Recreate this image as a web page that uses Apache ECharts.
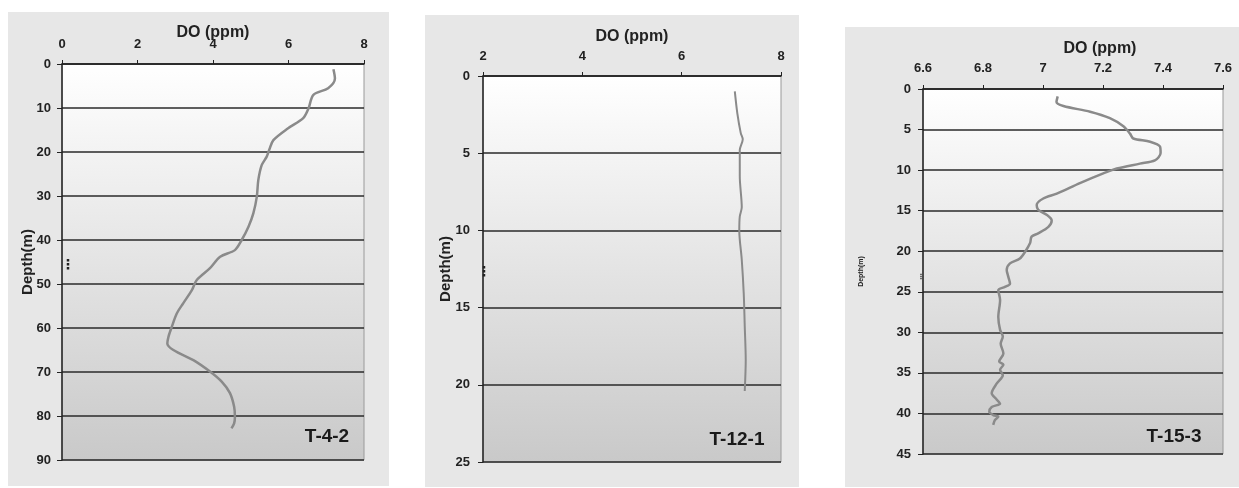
<!DOCTYPE html>
<html><head><meta charset="utf-8">
<script src="https://cdn.jsdelivr.net/npm/echarts@6/dist/echarts.min.js"></script>
<style>html,body{margin:0;padding:0;background:#fff}#c{width:1239px;height:488px}</style>
</head><body><div id="c"></div>
<script>
// Panel T-4-2
const t42Depth = [1.2,3.3,5.5,7.0,10.1,12.3,14.6,17.3,19.5,21.1,23,26.4,30.2,33.9,37,40,42.3,43.8,46.4,49.1,51.4,54.4,56.7,59.7,62,63.5,65,67.3,69.9,72.2,74.8,77.9,80.2,81.7,82.8];
const t42DO    = [7.19,7.23,7.05,6.66,6.53,6.39,5.99,5.60,5.49,5.42,5.29,5.20,5.16,5.07,4.94,4.76,4.58,4.19,3.92,3.57,3.44,3.21,3.04,2.91,2.82,2.79,2.95,3.48,3.92,4.23,4.45,4.56,4.58,4.56,4.49];
// Panel T-12-1
const t121Depth = [1.0,2.4,3.7,4.1,4.8,6.5,8.5,9.1,10.0,11.9,14.1,16.2,18.4,20.4];
const t121DO    = [7.07,7.12,7.19,7.23,7.17,7.17,7.21,7.17,7.16,7.21,7.25,7.27,7.29,7.27];
// Panel T-15-3
const t153Depth = [0.9,1.6,2.1,2.8,3.6,4.6,5.5,6.1,6.5,7.1,7.9,8.8,9.2,9.8,10.4,11.6,12.9,13.5,14.3,14.9,15.5,16.2,17.0,17.8,18.2,19.0,20.1,20.9,21.5,22.3,23.1,24.0,24.4,24.8,26.0,28.1,29.7,30.5,31.4,32.6,33.6,34.0,34.6,35.3,36.3,37.5,38.3,38.8,39.2,39.8,40.2,40.4,40.8,41.4];
const t153DO    = [7.049,7.045,7.068,7.157,7.223,7.268,7.29,7.301,7.357,7.39,7.392,7.373,7.323,7.246,7.201,7.123,7.046,7.001,6.979,6.984,7.012,7.029,7.018,6.984,6.962,6.957,6.94,6.923,6.89,6.879,6.884,6.89,6.873,6.851,6.857,6.851,6.857,6.866,6.859,6.868,6.854,6.868,6.857,6.866,6.846,6.829,6.846,6.857,6.829,6.821,6.834,6.851,6.84,6.834];

const panelNames = ['T-4-2','T-12-1','T-15-3'];
const xName = 'DO (ppm)';
const yName = 'Depth(m)';
const xRanges = [[0,8,2],[2,8,2],[6.6,7.6,0.2]];
const yRanges = [[0,90,10],[0,25,5],[0,45,5]];
const series = [[t42DO,t42Depth],[t121DO,t121Depth],[t153DO,t153Depth]];

const FONT = 'Liberation Sans';
const grids = [
  {left:62, top:64, width:302, height:396},
  {left:483, top:76, width:298, height:386},
  {left:923, top:89, width:300, height:365}
];
const boxes = [[8,12,381,474],[425,15,374,472],[845,27,394,460]];
const lay = [
  {xGap:23, xMargin:13, yGap:27, yMargin:11, yNameSize:15, xPad:[0,0,0,0], lw:2.5},
  {xGap:31, xMargin:13, yGap:30, yMargin:13, yNameSize:15, xPad:[0,0,0,0], lw:2},
  {xGap:32, xMargin:14, yGap:58, yMargin:12, yNameSize:7, xPad:[0,0,0,54], lw:2.5}
];
const labelPos = [[327,437],[737,440],[1174,437]];
const dotPos = [[68,265],[484,272],[921,277]];

const grad = new echarts.graphic.LinearGradient(0,0,0,1,[{offset:0,color:'#ffffff'},{offset:1,color:'#c9c9c9'}]);

const option = {
  backgroundColor:'#ffffff',
  animation:false,
  grid: grids.map(g => Object.assign({show:true, backgroundColor:grad, borderColor:'#9a9a9a', borderWidth:1}, g)),
  xAxis: xRanges.map((r,i)=>({
    type:'value', gridIndex:i, position:'top', min:r[0], max:r[1], interval:r[2], z:5,
    name:xName, nameLocation:'middle', nameGap:lay[i].xGap, nameMoveOverlap:false,
    nameTextStyle:{fontFamily:FONT, fontWeight:'bold', fontSize:16, color:'#222', padding:lay[i].xPad},
    axisLine:{show:true, lineStyle:{color:'#222', width:1.5}},
    axisTick:{show:true, length:4, lineStyle:{color:'#222'}},
    axisLabel:{fontFamily:FONT, fontWeight:'bold', fontSize:13, color:'#222', margin:lay[i].xMargin},
    splitLine:{show:false}
  })),
  yAxis: yRanges.map((r,i)=>({
    type:'value', gridIndex:i, inverse:true, min:r[0], max:r[1], interval:r[2], z:5,
    name:yName, nameLocation:'middle', nameGap:lay[i].yGap, nameMoveOverlap:false,
    nameTextStyle:{fontFamily:FONT, fontWeight:'bold', fontSize:lay[i].yNameSize, color:'#222'},
    axisLine:{show:true, onZero:false, lineStyle:{color:'#222', width:1.5}},
    axisTick:{show:true, length:5, lineStyle:{color:'#222'}},
    axisLabel:{fontFamily:FONT, fontWeight:'bold', fontSize:13, color:'#222', margin:lay[i].yMargin},
    splitLine:{show:true, lineStyle:{color:'#2a2a2a', width:1.5}}
  })),
  series: series.map((s,i)=>({
    type:'line', xAxisIndex:i, yAxisIndex:i, showSymbol:false, smooth:0.3,
    data: s[0].map((v,k)=>[v, s[1][k]]),
    lineStyle:{color:'#8a8a8a', width:lay[i].lw}, z:6
  })),
  graphic: [].concat(
    boxes.map(b=>({type:'rect', z:-10, silent:true, shape:{x:b[0],y:b[1],width:b[2],height:b[3]}, style:{fill:'#e7e7e7'}})),
    panelNames.map((n,i)=>({type:'text', z:10, x:labelPos[i][0], y:labelPos[i][1], style:{text:n, fontFamily:FONT, fontWeight:'bold', fontSize:19, fill:'#1a1a1a', textAlign:'center', textVerticalAlign:'middle'}})),
    dotPos.map((p,i)=>({type:'text', z:10, x:p[0], y:p[1], style:{text:'⋮', fontFamily:'DejaVu Sans', fontWeight:'bold', fontSize:i===2?7:14, fill:'#222', textAlign:'center', textVerticalAlign:'middle'}}))
  )
};
const chart = echarts.init(document.getElementById('c'), null, {renderer:'canvas'});
chart.setOption(option);
</script></body></html>
